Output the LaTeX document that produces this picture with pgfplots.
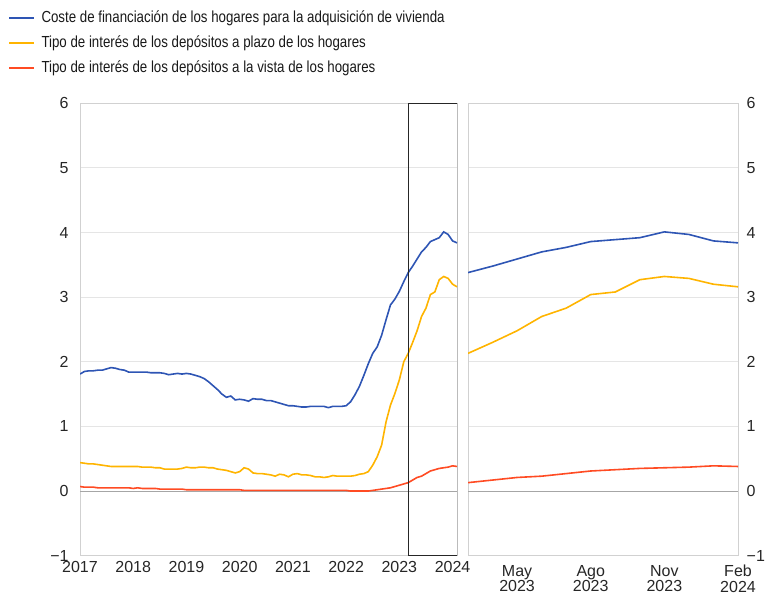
\documentclass[border=0pt]{standalone}
\usepackage{fontspec}
\setmainfont{Liberation Sans}
\usepackage{graphicx}
\usepackage{pgfplots}
\pgfplotsset{compat=1.18}
\usepackage{pgfplotstable}
\definecolor{ecbblue}{HTML}{2E55B4}
\definecolor{ecbyellow}{HTML}{FFB400}
\definecolor{ecbred}{HTML}{FF4B23}
\pgfplotstableread{
m blue yellow red
0 1.81 0.44 0.07
1 1.85 0.43 0.06
2 1.86 0.42 0.06
3 1.86 0.42 0.06
4 1.87 0.41 0.05
5 1.87 0.40 0.05
6 1.89 0.39 0.05
7 1.91 0.38 0.05
8 1.90 0.38 0.05
9 1.88 0.38 0.05
10 1.87 0.38 0.05
11 1.84 0.38 0.05
12 1.84 0.38 0.04
13 1.84 0.38 0.05
14 1.84 0.37 0.04
15 1.84 0.37 0.04
16 1.83 0.37 0.04
17 1.83 0.36 0.04
18 1.83 0.36 0.03
19 1.82 0.34 0.03
20 1.80 0.34 0.03
21 1.81 0.34 0.03
22 1.82 0.34 0.03
23 1.81 0.35 0.03
24 1.82 0.37 0.02
25 1.81 0.36 0.02
26 1.79 0.36 0.02
27 1.77 0.37 0.02
28 1.74 0.37 0.02
29 1.69 0.36 0.02
30 1.63 0.36 0.02
31 1.57 0.34 0.02
32 1.50 0.33 0.02
33 1.45 0.32 0.02
34 1.47 0.30 0.02
35 1.41 0.28 0.02
36 1.42 0.30 0.02
37 1.41 0.36 0.01
38 1.39 0.34 0.01
39 1.43 0.28 0.01
40 1.42 0.27 0.01
41 1.42 0.27 0.01
42 1.40 0.26 0.01
43 1.40 0.25 0.01
44 1.38 0.23 0.01
45 1.36 0.26 0.01
46 1.34 0.25 0.01
47 1.32 0.22 0.01
48 1.32 0.26 0.01
49 1.31 0.27 0.01
50 1.30 0.25 0.01
51 1.30 0.25 0.01
52 1.31 0.24 0.01
53 1.31 0.22 0.01
54 1.31 0.22 0.01
55 1.31 0.21 0.01
56 1.29 0.22 0.01
57 1.31 0.24 0.01
58 1.31 0.23 0.01
59 1.31 0.23 0.01
60 1.32 0.23 0.01
61 1.38 0.23 0.00
62 1.49 0.24 0.00
63 1.62 0.26 0.00
64 1.79 0.27 0.00
65 1.97 0.30 0.00
66 2.13 0.40 0.01
67 2.23 0.53 0.02
68 2.41 0.71 0.03
69 2.65 1.07 0.04
70 2.88 1.33 0.05
71 2.97 1.51 0.07
72 3.09 1.72 0.09
73 3.24 2.00 0.11
74 3.38 2.13 0.13
75 3.48 2.30 0.17
76 3.59 2.48 0.21
77 3.70 2.70 0.23
78 3.77 2.83 0.27
79 3.86 3.04 0.31
80 3.89 3.08 0.33
81 3.92 3.27 0.35
82 4.01 3.32 0.36
83 3.97 3.29 0.37
84 3.87 3.20 0.39
85 3.84 3.16 0.38
}\data
\begin{document}
\begin{tikzpicture}[x=1pt,y=1pt]
\useasboundingbox (0,0) rectangle (574.5,446.25);
\pgfplotsset{common/.style={
 scale only axis, height=339.3pt, ymin=-1, ymax=6, ytick={-1,0,...,6},
 yticklabels={−1,0,1,2,3,4,5,6},
 ymajorgrids, major grid style={black!10, line width=0.6pt},
 axis line style={black!18, line width=0.6pt}, major tick length=0pt,
 extra y ticks={0}, extra y tick labels={},
 extra y tick style={grid=major, major grid style={black!35, line width=0.8pt}},
 every tick label/.append style={font=\fontsize{12}{11.6}\selectfont, text=black!85},
 /pgf/number format/assume math mode=true,
 clip=true,
}}
\begin{axis}[common, at={(60pt,29.5pt)}, anchor=south west, width=282.75pt,
 xmin=2017, xmax=2024.0833, xtick={2017,2018,...,2024},
 xticklabel style={/pgf/number format/1000 sep={}, yshift=-1pt},
 yticklabel style={xshift=-5pt},
 legend style={at={(-0.191,1.2107)}, anchor=north west, draw=none, fill=none,
   font=\fontsize{12}{14}\selectfont, text=black!90, cells={anchor=west}, row sep=4.4pt, inner sep=0pt,
   /tikz/every odd column/.append style={column sep=3pt}},
 legend image code/.code={\draw[#1] (0pt,0pt) -- (18.75pt,0pt);},
 legend entries={\scalebox{0.83}[1]{Coste de financiación de los hogares para la adquisición de vivienda},
   \scalebox{0.83}[1]{Tipo de interés de los depósitos a plazo de los hogares},
   \scalebox{0.83}[1]{Tipo de interés de los depósitos a la vista de los hogares}},
]
\addlegendimage{ecbblue, line width=1.2pt}
\addlegendimage{ecbyellow, line width=1.2pt}
\addlegendimage{ecbred, line width=1.2pt}
\addplot[ecbblue, line width=1.2pt] table[x expr=2017+\thisrow{m}/12, y=blue] {\data};
\addplot[ecbyellow, line width=1.2pt] table[x expr=2017+\thisrow{m}/12, y=yellow] {\data};
\addplot[ecbred, line width=1.2pt] table[x expr=2017+\thisrow{m}/12, y=red] {\data};
\draw[black!85, line width=0.7pt] (axis cs:2023.1667,-1) rectangle (axis cs:2024.0833,6);
\end{axis}
\begin{axis}[common, at={(351pt,29.5pt)}, anchor=south west, width=202.5pt,
 xmin=0, xmax=11, xtick={2,5,8,11},
 xticklabels={May\\2023, Ago\\2023, Nov\\2023, Feb\\2024},
 xticklabel style={align=center, yshift=-3.5pt},
 yticklabel pos=right, yticklabel style={xshift=3pt},
]
\addplot[ecbblue, line width=1.2pt, restrict x to domain=0:11] table[x expr=\thisrow{m}-74, y=blue] {\data};
\addplot[ecbyellow, line width=1.2pt, restrict x to domain=0:11] table[x expr=\thisrow{m}-74, y=yellow] {\data};
\addplot[ecbred, line width=1.2pt, restrict x to domain=0:11] table[x expr=\thisrow{m}-74, y=red] {\data};
\end{axis}
\end{tikzpicture}
\end{document}
